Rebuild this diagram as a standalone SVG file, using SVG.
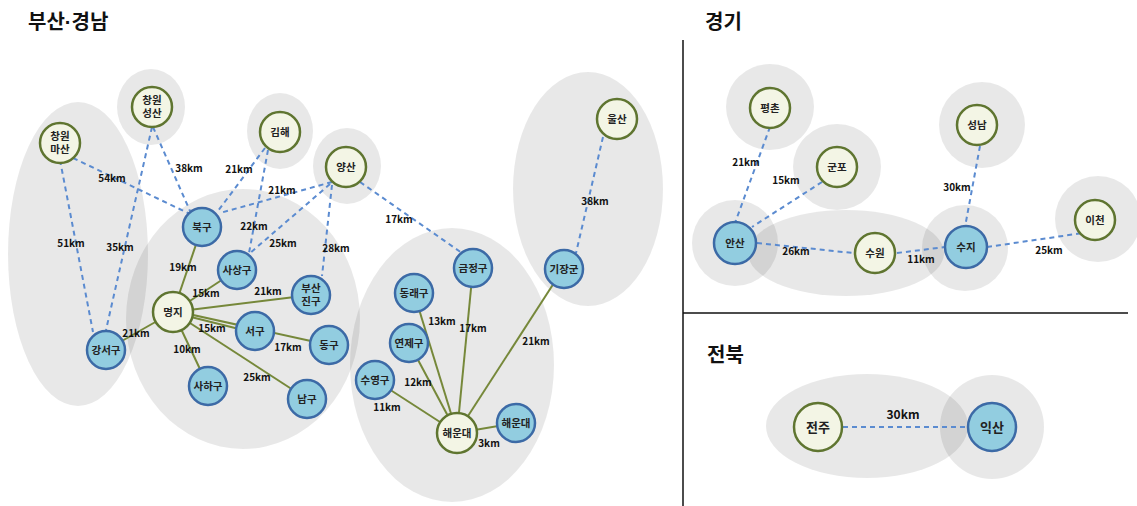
<svg xmlns="http://www.w3.org/2000/svg" width="1137" height="506" viewBox="0 0 1137 506">
<style>
.title{font-family:"Noto Sans CJK KR","Noto Sans",sans-serif;font-weight:bold;font-size:20px;fill:#111}
.area{fill:#000;fill-opacity:0.09}
.dash{stroke:#5b8bd0;stroke-width:2;stroke-dasharray:5 4;fill:none}
.solid{stroke:#76883a;stroke-width:2;fill:none}
.lbl{font-family:"Noto Sans CJK KR","Liberation Sans",sans-serif;font-weight:bold;font-size:10px;fill:#111;text-anchor:middle}
.lbl2{font-family:"Noto Sans CJK KR","Liberation Sans",sans-serif;font-weight:bold;font-size:12px;fill:#111;text-anchor:middle}
.g circle{fill:#f3f5e5;stroke:#5f7530;stroke-width:2.5}
.b circle{fill:#92cde0;stroke:#3c6aa6;stroke-width:2.5}
.nt{font-family:"Noto Sans CJK KR","Noto Sans",sans-serif;font-weight:bold;font-size:10.5px;fill:#222;text-anchor:middle}
.nt2{font-family:"Noto Sans CJK KR","Noto Sans",sans-serif;font-weight:bold;font-size:13px;fill:#222;text-anchor:middle}
</style>
<rect width="1137" height="506" fill="#fff"/>
<text class="title" x="28" y="29">부산<tspan font-family="Liberation Sans, sans-serif">·</tspan>경남</text>
<text class="title" x="705" y="29">경기</text>
<text class="title" x="707" y="362">전북</text>
<g id="dividers" stroke="#111" stroke-width="1.5">
<line x1="683" y1="40" x2="683" y2="506"/>
<line x1="683" y1="313" x2="1128" y2="313"/>
</g>
<g id="areas">
<ellipse class="area" cx="78" cy="254" rx="70" ry="152"/>
<ellipse class="area" cx="151" cy="107" rx="34" ry="38"/>
<ellipse class="area" cx="280" cy="131" rx="33" ry="38"/>
<ellipse class="area" cx="347" cy="166" rx="34" ry="38"/>
<ellipse class="area" cx="243" cy="319" rx="117" ry="130"/>
<ellipse class="area" cx="452" cy="365" rx="102" ry="137"/>
<ellipse class="area" cx="588" cy="189" rx="75" ry="117"/>
<ellipse class="area" cx="770" cy="107" rx="44" ry="43"/>
<ellipse class="area" cx="837" cy="167" rx="44" ry="43"/>
<ellipse class="area" cx="735" cy="243" rx="43" ry="43"/>
<ellipse class="area" cx="846" cy="253" rx="98" ry="43"/>
<ellipse class="area" cx="965" cy="248" rx="43" ry="43"/>
<ellipse class="area" cx="982" cy="125" rx="43" ry="43"/>
<ellipse class="area" cx="1098" cy="219" rx="43" ry="43"/>
<ellipse class="area" cx="867" cy="426" rx="101" ry="52"/>
<ellipse class="area" cx="992" cy="427" rx="52" ry="52"/>
</g>
<g id="connectors">
<line class="dash" x1="73" y1="158" x2="190" y2="214"/>
<line class="dash" x1="60" y1="160" x2="93" y2="332"/>
<line class="dash" x1="152" y1="127" x2="106" y2="330"/>
<line class="dash" x1="153" y1="127" x2="190" y2="211"/>
<line class="dash" x1="265" y1="148" x2="218" y2="211"/>
<line class="dash" x1="268" y1="150" x2="249" y2="253"/>
<line class="dash" x1="332" y1="182" x2="220" y2="213"/>
<line class="dash" x1="330" y1="184" x2="249" y2="254"/>
<line class="dash" x1="332" y1="185" x2="322" y2="276"/>
<line class="dash" x1="360" y1="182" x2="462" y2="253"/>
<line class="dash" x1="603" y1="137" x2="576" y2="253"/>
<line class="solid" x1="173" y1="312" x2="202" y2="227"/>
<line class="solid" x1="173" y1="312" x2="237" y2="270"/>
<line class="solid" x1="173" y1="312" x2="311" y2="295"/>
<line class="solid" x1="175" y1="311" x2="329" y2="345"/>
<line class="solid" x1="175" y1="313" x2="255" y2="333"/>
<line class="solid" x1="173" y1="312" x2="106" y2="350"/>
<line class="solid" x1="173" y1="312" x2="208" y2="386"/>
<line class="solid" x1="173" y1="312" x2="307" y2="399"/>
<line class="solid" x1="457" y1="433" x2="414" y2="293"/>
<line class="solid" x1="457" y1="433" x2="473" y2="268"/>
<line class="solid" x1="457" y1="433" x2="563" y2="269"/>
<line class="solid" x1="457" y1="433" x2="409" y2="343"/>
<line class="solid" x1="457" y1="433" x2="375" y2="380"/>
<line class="solid" x1="457" y1="433" x2="516" y2="423"/>
<line class="dash" x1="770" y1="127" x2="735" y2="223"/>
<line class="dash" x1="822" y1="182" x2="752" y2="227"/>
<line class="dash" x1="757" y1="243" x2="853" y2="253"/>
<line class="dash" x1="897" y1="253" x2="945" y2="247"/>
<line class="dash" x1="980" y1="146" x2="965" y2="227"/>
<line class="dash" x1="987" y1="247" x2="1083" y2="233"/>
<line class="dash" x1="843" y1="427" x2="967" y2="427"/>
</g>
<g id="labels">
<text class="lbl" x="112" y="182">54km</text>
<text class="lbl" x="189" y="172">38km</text>
<text class="lbl" x="71" y="247">51km</text>
<text class="lbl" x="120" y="251">35km</text>
<text class="lbl" x="239" y="173">21km</text>
<text class="lbl" x="282" y="194">21km</text>
<text class="lbl" x="254" y="230">22km</text>
<text class="lbl" x="283" y="247">25km</text>
<text class="lbl" x="336" y="252">28km</text>
<text class="lbl" x="183" y="271">19km</text>
<text class="lbl" x="206" y="297">15km</text>
<text class="lbl" x="268" y="295">21km</text>
<text class="lbl" x="212" y="332">15km</text>
<text class="lbl" x="288" y="351">17km</text>
<text class="lbl" x="136" y="337">21km</text>
<text class="lbl" x="187" y="353">10km</text>
<text class="lbl" x="257" y="381">25km</text>
<text class="lbl" x="399" y="223">17km</text>
<text class="lbl" x="595" y="205">38km</text>
<text class="lbl" x="442" y="325">13km</text>
<text class="lbl" x="473" y="332">17km</text>
<text class="lbl" x="536" y="345">21km</text>
<text class="lbl" x="418" y="386">12km</text>
<text class="lbl" x="387" y="411">11km</text>
<text class="lbl" x="489" y="447">3km</text>
<text class="lbl" x="746" y="166">21km</text>
<text class="lbl" x="786" y="184">15km</text>
<text class="lbl" x="796" y="255">26km</text>
<text class="lbl" x="921" y="263">11km</text>
<text class="lbl" x="957" y="191">30km</text>
<text class="lbl" x="1049" y="254">25km</text>
<text class="lbl2" x="903" y="419">30km</text>
</g>
<g id="n-masan" class="g"><circle cx="60" cy="143" r="20"/><text class="nt" x="60" y="140">창원</text><text class="nt" x="60" y="153">마산</text></g>
<g id="n-seongsan" class="g"><circle cx="152" cy="107" r="20"/><text class="nt" x="152" y="104">창원</text><text class="nt" x="152" y="117">성산</text></g>
<g id="n-gimhae" class="g"><circle cx="280" cy="132" r="20"/><text class="nt" x="280" y="136">김해</text></g>
<g id="n-yangsan" class="g"><circle cx="346" cy="167" r="20"/><text class="nt" x="346" y="171">양산</text></g>
<g id="n-ulsan" class="g"><circle cx="617" cy="119" r="20"/><text class="nt" x="617" y="123">울산</text></g>
<g id="n-bukgu" class="b"><circle cx="202" cy="227" r="19"/><text class="nt" x="202" y="231">북구</text></g>
<g id="n-sasang" class="b"><circle cx="237" cy="270" r="19"/><text class="nt" x="237" y="274">사상구</text></g>
<g id="n-busanjin" class="b"><circle cx="311" cy="295" r="19"/><text class="nt" x="311" y="292">부산</text><text class="nt" x="311" y="305">진구</text></g>
<g id="n-myeongji" class="g"><circle cx="173" cy="312" r="20"/><text class="nt" x="173" y="316">명지</text></g>
<g id="n-seogu" class="b"><circle cx="255" cy="331" r="19"/><text class="nt" x="255" y="335">서구</text></g>
<g id="n-donggu" class="b"><circle cx="329" cy="345" r="19"/><text class="nt" x="329" y="349">동구</text></g>
<g id="n-gangseo" class="b"><circle cx="106" cy="350" r="19"/><text class="nt" x="106" y="354">강서구</text></g>
<g id="n-saha" class="b"><circle cx="208" cy="386" r="19"/><text class="nt" x="208" y="390">사하구</text></g>
<g id="n-namgu" class="b"><circle cx="307" cy="399" r="19"/><text class="nt" x="307" y="403">남구</text></g>
<g id="n-geumjeong" class="b"><circle cx="473" cy="268" r="19"/><text class="nt" x="473" y="272">금정구</text></g>
<g id="n-dongnae" class="b"><circle cx="414" cy="293" r="19"/><text class="nt" x="414" y="297">동래구</text></g>
<g id="n-yeonje" class="b"><circle cx="409" cy="343" r="19"/><text class="nt" x="409" y="347">연제구</text></g>
<g id="n-suyeong" class="b"><circle cx="375" cy="380" r="19"/><text class="nt" x="375" y="384">수영구</text></g>
<g id="n-haeundae-g" class="g"><circle cx="457" cy="433" r="20"/><text class="nt" x="457" y="437">해운대</text></g>
<g id="n-haeundae-b" class="b"><circle cx="516" cy="423" r="19"/><text class="nt" x="516" y="427">해운대</text></g>
<g id="n-gijang" class="b"><circle cx="564" cy="269" r="19"/><text class="nt" x="564" y="273">기장군</text></g>
<g id="n-pyeongchon" class="g"><circle cx="770" cy="108" r="20"/><text class="nt" x="770" y="112">평촌</text></g>
<g id="n-gunpo" class="g"><circle cx="837" cy="167" r="20"/><text class="nt" x="837" y="171">군포</text></g>
<g id="n-ansan" class="b"><circle cx="735" cy="243" r="21"/><text class="nt" x="735" y="247">안산</text></g>
<g id="n-suwon" class="g"><circle cx="875" cy="253" r="20"/><text class="nt" x="875" y="257">수원</text></g>
<g id="n-suji" class="b"><circle cx="966" cy="247" r="21"/><text class="nt" x="966" y="251">수지</text></g>
<g id="n-seongnam" class="g"><circle cx="977" cy="125" r="20"/><text class="nt" x="977" y="129">성남</text></g>
<g id="n-icheon" class="g"><circle cx="1095" cy="220" r="20"/><text class="nt" x="1095" y="224">이천</text></g>
<g id="n-jeonju" class="g"><circle cx="818" cy="427" r="24"/><text class="nt2" x="818" y="432">전주</text></g>
<g id="n-iksan" class="b"><circle cx="992" cy="427" r="24"/><text class="nt2" x="992" y="432">익산</text></g>
</svg>
